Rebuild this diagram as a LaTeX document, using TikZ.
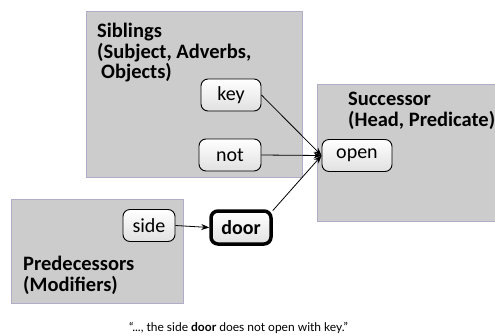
\documentclass[tikz,border=0pt]{standalone}
\usepackage{fontspec}
\setmainfont{Carlito}
\newfontfamily\quotefont{Lato}
\usetikzlibrary{arrows.meta,positioning}
\definecolor{boxgray}{RGB}{204,204,204}
\definecolor{boxline}{RGB}{178,172,200}

\begin{document}
\begin{tikzpicture}[x=1pt,y=-1pt,>={Stealth[length=8pt,width=6pt]},
  group/.style={draw=boxline,fill=boxgray,line width=0.6pt},
  grouplabel/.style={anchor=north west,align=left,inner sep=0pt,
    font=\fontsize{20.5}{20.5}\selectfont\bfseries},
  word/.style={draw,rounded corners=7pt,line width=0.9pt,top color=white,
    bottom color=black!12,minimum height=32pt,inner xsep=8pt,
    font=\fontsize{20}{22}\selectfont}]
\useasboundingbox (0,0) rectangle (495,335);
% the three groups of neighbours
\draw[group] (86,11) rectangle (302,177);
\draw[group] (317,84) rectangle (500,221);
\draw[group] (11,199) rectangle (183,303);
\node[grouplabel] (sib) at (97,23) {Siblings\\(Subject, Adverbs,\\\hspace*{4pt}Objects)};
\node[grouplabel] (succ) at (348,92) {Successor\\(Head, Predicate)};
\node[grouplabel] (pred) at (23,256) {Predecessors\\(Modifiers)};
% words of the sentence
\node[word,minimum width=60pt] (key) at (231,95) {key};
\node[word,minimum width=62pt] (not) at (230,155) {not};
\node[word,minimum width=70pt] (open) at (357,155.5) {open};
\node[word,minimum width=52pt] (side) at (149,225.5) {side};
\node[word,minimum width=60pt,line width=3.5pt,minimum height=33pt,font=\fontsize{20}{22}\selectfont\bfseries] (door) at (241,227.5) {door};
\draw[->,thick] (key.east) -- (open.west);
\draw[->,thick] (not.east) -- (open.west);
\draw[->,thick] (door.28) -- (open.west);
\draw[->,thick] (side.east) -- (door.west);
\node[font=\quotefont\fontsize{12}{14}\selectfont] (quote) at (238.5,328) {“..., the side \textbf{door} does not open with key.”};
\end{tikzpicture}
\end{document}
